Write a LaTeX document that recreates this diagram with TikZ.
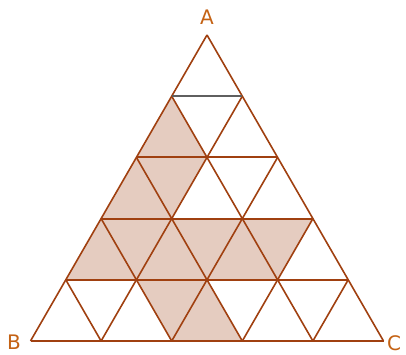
\documentclass[tikz,border=0pt]{standalone}
\usepackage{fontspec}
\setmainfont{DejaVu Sans}
\definecolor{edge}{RGB}{160,64,16}
\definecolor{shade}{RGB}{229,204,192}
\definecolor{lbl}{RGB}{196,98,20}
\definecolor{grayline}{RGB}{95,95,95}
\tikzset{
  diag/.style={draw=edge, line width=1.6pt},
  horiz/.style={draw=edge, line width=2pt},
  fillt/.style={fill=shade},
  lab/.style={text=lbl, font=\fontsize{20}{22}\selectfont, inner sep=0pt}
}
\begin{document}
\begin{tikzpicture}[x=1pt,y=-1pt]
\useasboundingbox (0,0) rectangle (406,354);
\foreach \i in {0,...,5}{
  \foreach \j in {0,...,\i}{
    \coordinate (p\i-\j) at ({207+(\j-\i/2)*70.6},{35+\i*61.2});
  }
}
% shaded triangles
\fill[fillt] (p1-0) -- (p2-0) -- (p2-1) -- cycle;
\fill[fillt] (p2-0) -- (p3-0) -- (p3-1) -- cycle;
\fill[fillt] (p2-0) -- (p2-1) -- (p3-1) -- cycle;
\fill[fillt] (p3-0) -- (p4-0) -- (p4-1) -- cycle;
\fill[fillt] (p3-1) -- (p4-1) -- (p4-2) -- cycle;
\fill[fillt] (p3-2) -- (p4-2) -- (p4-3) -- cycle;
\fill[fillt] (p3-0) -- (p3-1) -- (p4-1) -- cycle;
\fill[fillt] (p3-1) -- (p3-2) -- (p4-2) -- cycle;
\fill[fillt] (p3-2) -- (p3-3) -- (p4-3) -- cycle;
\fill[fillt] (p4-1) -- (p4-2) -- (p5-2) -- cycle;
\fill[fillt] (p4-2) -- (p5-2) -- (p5-3) -- cycle;
% diagonals
\foreach \j in {0,...,4}{
  \draw[diag] (p\j-\j) -- (p5-\j);
}
\foreach \m in {0,...,4}{
  \pgfmathtruncatemacro{\e}{5-\m}
  \draw[diag] (p\m-0) -- (p5-\e);
}
% horizontals
\draw[draw=grayline, line width=1.5pt] (p1-0) -- (p1-1);
\foreach \i in {2,...,5}{
  \draw[horiz] (p\i-0) -- (p\i-\i);
}
\node[lab] (A) at (207,17) {A};
\node[lab] (B) at (14,342) {B};
\node[lab] (C) at (394,343) {C};
\end{tikzpicture}
\end{document}
